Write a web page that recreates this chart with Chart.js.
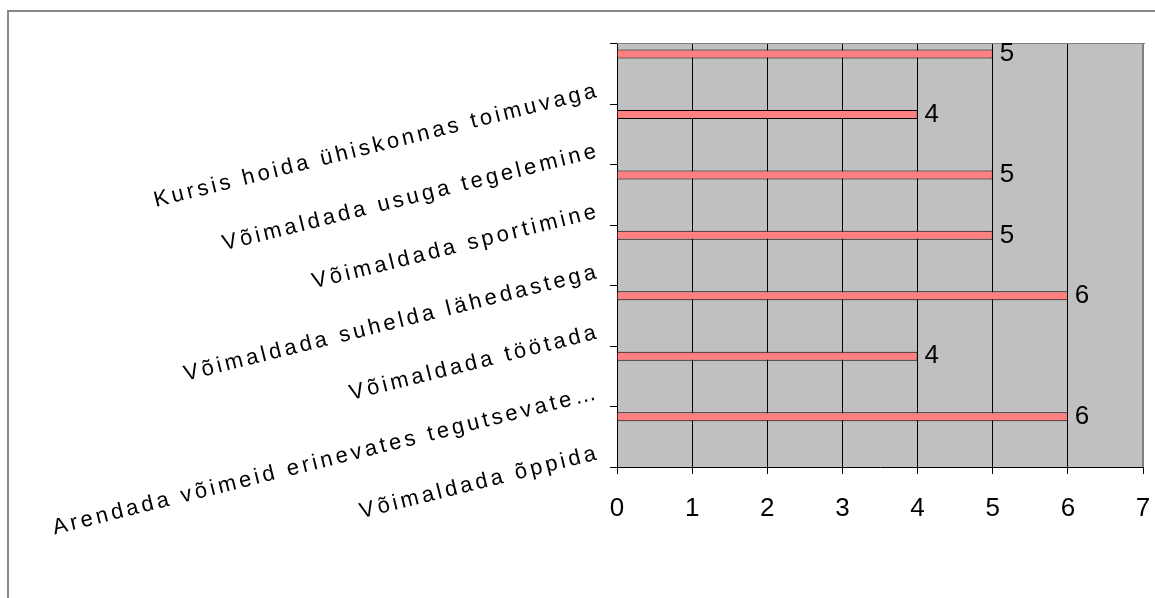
<!DOCTYPE html>
<html>
<head>
<meta charset="utf-8">
<script src="https://cdn.jsdelivr.net/npm/chart.js@4/dist/chart.umd.min.js"></script>
<style>
  html, body { margin: 0; padding: 0; background: #ffffff; }
  #wrap { position: relative; width: 1155px; height: 598px; }
</style>
</head>
<body>
<div id="wrap"><canvas id="chart"></canvas></div>
<script>
// ---- data (top to bottom as shown) ----
const categories = [
  "Kursis hoida ühiskonnas toimuvaga",
  "Võimaldada usuga tegelemine",
  "Võimaldada sportimine",
  "Võimaldada suhelda lähedastega",
  "Võimaldada töötada",
  "Arendada võimeid erinevates tegutsevate…",
  "Võimaldada õppida"
];
const values = [5, 4, 5, 5, 6, 4, 6];
// the original chart reserves room for two further (empty) series in each group
const emptySeries2 = [];
const emptySeries3 = [];
const valueTicks = [0, 1, 2, 3, 4, 5, 6, 7];

const FONT = '"Liberation Sans", Arial, sans-serif';

const framePlugin = {
  id: 'frame',
  beforeDraw(chart) {
    const ctx = chart.ctx;
    const a = chart.chartArea;
    ctx.save();
    // outer chart border (top + left)
    ctx.fillStyle = '#888888';
    ctx.fillRect(7, 10, 2, chart.height - 10);
    ctx.fillRect(7, 10, chart.width - 7, 2);
    // plot area
    ctx.fillStyle = '#C0C0C0';
    ctx.fillRect(a.left, a.top, a.right - a.left, a.bottom - a.top);
    ctx.fillStyle = '#808080';
    ctx.fillRect(a.left, a.top - 1, a.right - a.left + 2, 1);
    ctx.fillRect(a.right - 1, a.top - 1, 2, a.bottom - a.top + 1);
    ctx.restore();
  },
  afterDatasetsDraw(chart) {
    const ctx = chart.ctx;
    const meta = chart.getDatasetMeta(0);
    ctx.save();
    if ('letterSpacing' in ctx) ctx.letterSpacing = '0px';
    ctx.font = '26px ' + FONT;
    ctx.fillStyle = '#000000';
    ctx.textAlign = 'left';
    ctx.textBaseline = 'middle';
    meta.data.forEach((bar, i) => {
      ctx.fillText(String(values[i]), bar.x + 7, bar.y);
    });
    ctx.restore();
    // widen spacing for the rotated category labels drawn next
    if ('letterSpacing' in ctx) ctx.letterSpacing = '3.4px';
  },
  afterDraw(chart) {
    if ('letterSpacing' in chart.ctx) chart.ctx.letterSpacing = '0px';
  }
};

new Chart(document.getElementById('chart'), {
  type: 'bar',
  data: {
    labels: categories,
    datasets: [
      { label: 'Series 1', data: values, backgroundColor: '#FF8080', borderColor: '#000000', borderWidth: 1,
        barPercentage: 0.447, categoryPercentage: 1.0 },
      { label: 'Series 2', data: emptySeries2, backgroundColor: '#FF8080', barPercentage: 0.447, categoryPercentage: 1.0 },
      { label: 'Series 3', data: emptySeries3, backgroundColor: '#FF8080', barPercentage: 0.447, categoryPercentage: 1.0 }
    ]
  },
  options: {
    indexAxis: 'y',
    responsive: true,
    maintainAspectRatio: false,
    animation: false,
    layout: { padding: { top: 44, right: 12, left: 0, bottom: 0 } },
    plugins: { legend: { display: false }, tooltip: { enabled: false } },
    scales: {
      x: {
        type: 'linear',
        min: 0, max: 7,
        afterBuildTicks: (s) => { s.ticks = valueTicks.map(v => ({ value: v })); },
        afterFit: (s) => { s.height = 131; s.paddingLeft = 0; s.paddingRight = 0; },
        ticks: { font: { family: FONT, size: 26 }, color: '#000000', padding: 19, maxRotation: 0 },
        grid: {
          color: (c) => (c.tick && c.tick.value === 7) ? 'rgba(0,0,0,0)' : '#000000',
          tickColor: '#000000',
          lineWidth: 1,
          tickLength: 7
        },
        border: { color: '#000000', width: 1 }
      },
      y: {
        type: 'category',
        afterFit: (s) => { s.width = 617; s.paddingTop = 0; s.paddingBottom = 0; },
        ticks: {
          font: { family: FONT, size: 22 }, color: '#000000',
          minRotation: 14, maxRotation: 14, autoSkip: false,
          padding: 11, labelOffset: 16, z: 1
        },
        grid: { drawOnChartArea: false, color: '#000000', tickLength: 7, offset: true },
        border: { color: '#000000', width: 1 }
      }
    }
  },
  plugins: [framePlugin]
});
</script>
</body>
</html>
